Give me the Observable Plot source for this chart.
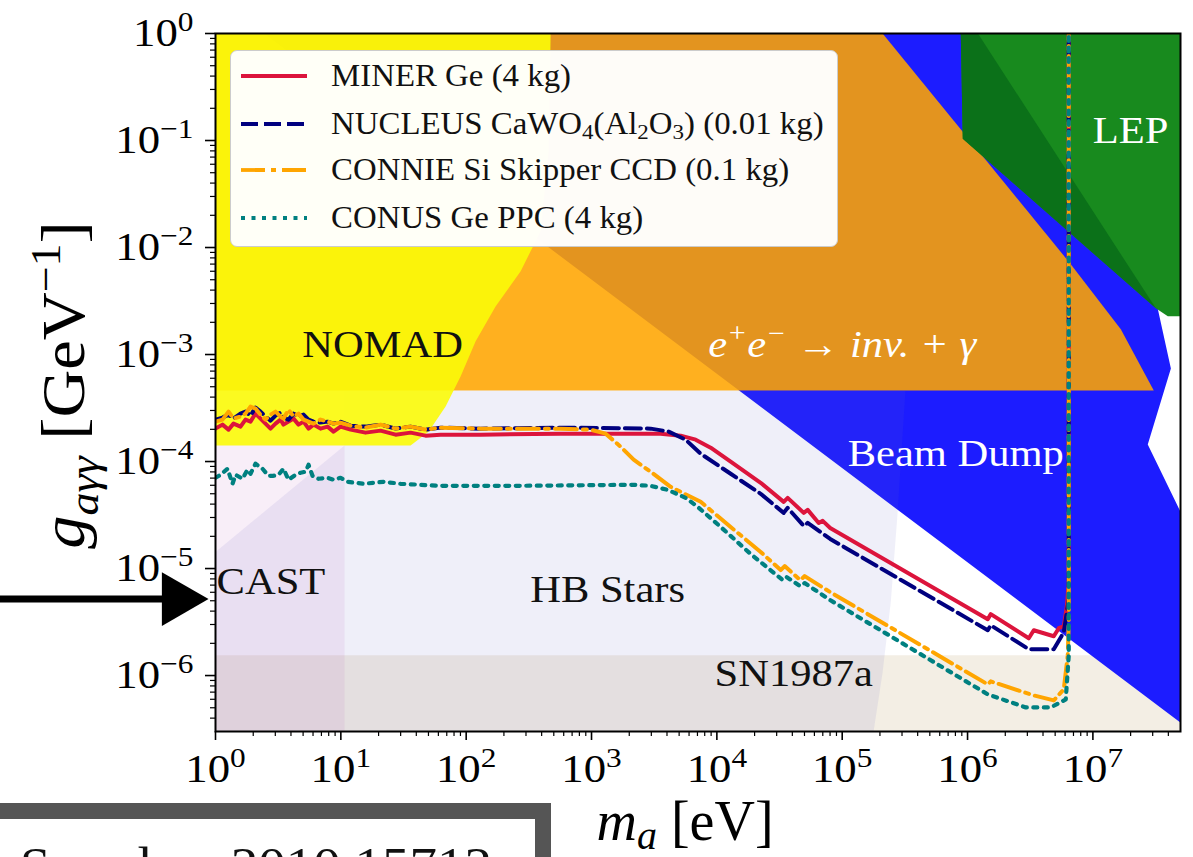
<!DOCTYPE html>
<html>
<head>
<meta charset="utf-8">
<script src="https://cdn.jsdelivr.net/npm/d3@7"></script>
<script src="https://cdn.jsdelivr.net/npm/@observablehq/plot@0.6"></script>
<style>
html,body{margin:0;padding:0;background:#fff;}
body{width:1193px;height:857px;overflow:hidden;position:relative;font-family:"Liberation Serif",serif;}
#chart{position:absolute;left:0;top:0;}
#legend{position:absolute;left:230px;top:50px;width:608px;height:197px;background:rgba(255,255,255,0.97);border:1.5px solid #cccccc;border-radius:7px;box-sizing:border-box;}
.row{position:absolute;left:0;height:40px;display:flex;align-items:center;}
.row svg{margin-left:9px;flex:none;}
.row span{font-size:31px;margin-left:23px;display:inline-block;transform:scaleX(1.06);transform-origin:left center;white-space:nowrap;color:#111;}
.row sub{font-size:0.7em;vertical-align:-0.25em;line-height:0;}
#note{position:absolute;left:-40px;top:803px;width:591px;height:140px;border:16px solid #555;box-sizing:border-box;}
#note span{position:absolute;left:44px;top:17px;font-size:50px;white-space:nowrap;color:#111;display:inline-block;transform:scaleX(1.1);transform-origin:left top;}
</style>
</head>
<body>
<div id="chart"></div>
<div id="legend"></div>
<div id="note"><span>See also: 2010.15712</span></div>
<script>
// ---------- axis ticks ----------
const xDecades = [1, 10, 100, 1e3, 1e4, 1e5, 1e6, 1e7];
const yDecades = [1e-6, 1e-5, 1e-4, 1e-3, 1e-2, 1e-1, 1];
const xDomain = [1, 5e7];
const yDomain = [3e-7, 1];

// ---------- excluded regions (polygons, data units) ----------
const snX = [1, 5e7, 5e7, 1];
const snY = [3e-7, 3e-7, 1.55e-6, 1.55e-6];

const beamX = [2.45, 3.3e7, 3.3e7, 4.19e7, 2.74e7, 5e7, 5e7];
const beamY = [1, 1, 2.65e-3, 7.4e-4, 1.44e-4, 3.39e-5, 3.64e-7];

const eeX = [1, 2.1e5, 6.66e6, 1.67e7, 3.06e7, 1];
const eeY = [1, 1, 6.99e-3, 1.72e-3, 4.6e-4, 4.6e-4];

const lepX = [8.83e5, 5e7, 5e7, 3.96e7, 3.18e7, 9.16e5];
const lepY = [1, 1, 2.28e-3, 2.28e-3, 2.7e-3, 0.104];
const lepDarkX = [8.83e5, 1.21e6, 3.18e7, 9.16e5];
const lepDarkY = [1, 1, 2.7e-3, 0.104];

const nomadX = [1, 472, 455, 393, 272, 172, 119, 90.2, 68.5, 50.1, 36.0, 1];
const nomadY = [1, 1, 0.080, 0.01425, 6.01e-3, 2.82e-3, 1.33e-3, 6.24e-4, 3.27e-4, 1.90e-4, 1.41e-4, 1.41e-4];

const hbX = [1, 1.78e5, 2.1e5, 2.44e5, 2.77e5, 3.2e5, 10.7, 10.7, 1];
const hbY = [3e-7, 3e-7, 1.07e-6, 4.85e-6, 3.39e-5, 4.6e-4, 4.6e-4, 1.41e-4, 1.43e-5];

const castX = [1, 10.7, 10.7, 1];
const castY = [3e-7, 3e-7, 4.6e-4, 4.6e-4];

// ---------- sensitivity curves ----------
const minerX = [1,1.137,1.27,1.392,1.583,1.735,1.902,2.085,2.286,2.506,2.748,3.012,3.303,3.488,3.824,4.193,4.597,5.04,5.524,6.053,6.887,7.833,8.745,9.945,11.95,15.74,20.74,27.33,36.0,47.4,62.5,130,567,1707,3560,5142,6772,8925,12883,22360,34130,36730,49300,53050,64940,69900,80200,1.45e6,1.532e6,3.079e6,3.376e6,4.874e6,5.344e6,5.858e6,6.19e6,6.42e6,6.42e6];
const minerG = [2.030e-4,2.213e-4,1.986e-4,2.261e-4,2.120e-4,2.465e-4,2.360e-4,2.805e-4,2.518e-4,2.261e-4,2.030e-4,2.261e-4,2.465e-4,2.213e-4,2.360e-4,2.518e-4,2.213e-4,2.360e-4,2.030e-4,2.213e-4,2.030e-4,2.120e-4,1.903e-4,2.120e-4,1.986e-4,1.862e-4,1.944e-4,1.783e-4,1.862e-4,1.745e-4,1.783e-4,1.783e-4,1.822e-4,1.822e-4,1.822e-4,1.745e-4,1.601e-4,1.347e-4,9.956e-5,6.33e-5,4.201e-5,4.578e-5,3.313e-5,3.534e-5,2.669e-5,2.787e-5,2.396e-5,3.36e-6,3.75e-6,2.23e-6,2.65e-6,2.33e-6,2.77e-6,2.89e-6,4.36e-6,7.47e-6,1];

const nucleusX = [1,1.137,1.27,1.392,1.583,1.735,1.902,2.085,2.286,2.506,2.748,3.012,3.303,3.488,3.824,4.193,4.597,5.04,5.524,6.053,6.887,7.833,8.745,9.945,11.95,15.74,20.74,27.33,36.0,47.4,62.5,130,567,2963,4124,5636,7426,12883,22360,34130,36730,49300,53050,80200,1.45e6,1.532e6,3.079e6,4.874e6,5.858e6,6.42e6,6.42e6];
const nucleusG = [2.465e-4,2.573e-4,2.745e-4,2.518e-4,2.805e-4,2.929e-4,2.687e-4,3.193e-4,2.929e-4,2.630e-4,2.412e-4,2.687e-4,2.867e-4,2.573e-4,2.465e-4,2.805e-4,2.630e-4,2.745e-4,2.465e-4,2.360e-4,2.310e-4,2.360e-4,2.261e-4,2.360e-4,2.165e-4,2.120e-4,2.213e-4,2.030e-4,2.120e-4,1.986e-4,2.074e-4,2.030e-4,2.074e-4,2.030e-4,1.903e-4,1.601e-4,1.183e-4,7.686e-5,4.991e-5,3.313e-5,3.690e-5,2.502e-5,2.669e-5,1.890e-5,2.65e-6,2.95e-6,1.76e-6,1.76e-6,2.54e-6,5.18e-6,1];

const connieX = [1,1.137,1.27,1.392,1.583,1.735,1.902,2.085,2.286,2.506,2.748,3.012,3.303,3.488,3.824,4.193,4.597,5.04,5.524,6.053,6.887,7.833,8.745,9.945,11.95,15.74,20.74,27.33,36.0,47.4,62.5,130,567,984,1296,1707,2168,2963,4279,7426,12883,22360,32300,34760,46220,50200,80200,1.45e6,1.532e6,3.376e6,4.874e6,5.858e6,6.30e6,6.42e6,6.42e6];
const connieG = [2.360e-4,2.465e-4,2.929e-4,2.518e-4,2.630e-4,2.805e-4,3.263e-4,3.125e-4,2.745e-4,2.465e-4,2.745e-4,2.929e-4,2.630e-4,2.518e-4,3.058e-4,2.630e-4,2.805e-4,2.465e-4,2.360e-4,2.261e-4,2.465e-4,2.360e-4,2.261e-4,2.310e-4,2.165e-4,2.074e-4,2.213e-4,2.030e-4,2.120e-4,1.986e-4,2.074e-4,2.030e-4,2.030e-4,1.986e-4,1.822e-4,1.376e-4,1.040e-4,8.025e-5,5.804e-5,4.201e-5,2.448e-5,1.428e-5,9.68e-6,1.055e-5,7.80e-6,8.50e-6,6.02e-6,8.27e-7,8.82e-7,6.52e-7,5.86e-7,7.42e-7,1.55e-6,3.15e-6,1];

const conusX = [1,1.096,1.247,1.367,1.444,1.642,1.80,1.902,2.085,2.372,2.648,2.903,3.183,3.488,3.824,4.35,4.768,5.226,5.524,5.943,6.637,7.833,8.745,9.945,11.31,15.18,21.92,29.96,62.5,272,2168,2963,4050,5636,7028,10723,18608,33500,36060,46220,50200,80200,1.45e6,2.914e6,4.613e6,6.076e6,6.42e6,6.42e6];
const conusG = [7.049e-5,7.521e-5,8.561e-5,6.193e-5,7.521e-5,6.899e-5,8.378e-5,7.686e-5,9.537e-5,8.561e-5,7.360e-5,7.360e-5,7.521e-5,8.561e-5,6.752e-5,7.521e-5,7.852e-5,8.025e-5,9.333e-5,7.360e-5,6.899e-5,7.049e-5,6.752e-5,7.049e-5,6.466e-5,6.193e-5,6.466e-5,6.193e-5,5.931e-5,5.931e-5,6.061e-5,5.931e-5,5.440e-5,4.578e-5,3.771e-5,2.448e-5,1.367e-5,7.80e-6,8.32e-6,6.85e-6,7.31e-6,5.07e-6,6.67e-7,5.04e-7,5.04e-7,5.98e-7,1.55e-6,1];

// ---------- text annotations (data units) ----------
const seriesNames = ["MINER Ge (4 kg)", "NUCLEUS CaWO<sub>4</sub>(Al<sub>2</sub>O<sub>3</sub>) (0.01 kg)", "CONNIE Si Skipper CCD (0.1 kg)", "CONUS Ge PPC (4 kg)"];
const darkLabels = [
  {text: "NOMAD", x: 21.5, y: 1.24e-3},
  {text: "HB Stars", x: 1343, y: 6.3e-6},
  {text: "SN1987a", x: 4.1e4, y: 1.03e-6}
];
const castLabel = [{text: "CAST", x: 1.02, y: 7.47e-6}];
const lightLabels = [
  {text: "LEP", x: 2.0e7, y: 0.123},
  {text: "Beam Dump", x: 8.05e5, y: 1.18e-4}
];
const eeLabel = [{text: "e^{+}e^{−} → inv. + γ", x: 1.0e5, y: 1.24e-3}];
const arrowShaft = [{x1: 0.0192, x2: 0.5, y: 5.18e-6}];
const arrowHead = [{x: 0.497, y: 5.18e-6}];

// ---------- build ----------
const poly = (xs, ys) => xs.map((x, i) => ({x, y: ys[i]}));
const minor = (decs, lo, hi) => decs.flatMap(d => [2,3,4,5,6,7,8,9].map(k => k * d)).filter(v => v > lo && v < hi);
const xMinor = minor([1,10,100,1e3,1e4,1e5,1e6,1e7], xDomain[0], xDomain[1]);
const yMinor = minor([1e-7,1e-6,1e-5,1e-4,1e-3,1e-2,1e-1], yDomain[0], yDomain[1]);
const pow10 = d => { const e = Math.round(Math.log10(d)); return "10^{" + (e < 0 ? "−" + (-e) : e) + "}"; };

const region = (xs, ys, fill, opacity = 1) =>
  Plot.line(poly(xs, ys), {x: "x", y: "y", fill, fillOpacity: opacity, stroke: "none", clip: true});

const styles = {
  miner: {stroke: "#dc143c", strokeWidth: 4},
  nucleus: {stroke: "#00007f", strokeWidth: 4, strokeDasharray: "16,6"},
  connie: {stroke: "#ffa500", strokeWidth: 4, strokeDasharray: "22,6,4,6"},
  conus: {stroke: "#008080", strokeWidth: 4.2, strokeDasharray: "4,6.5"}
};

const chart = Plot.plot({
  width: 1193, height: 857,
  marginLeft: 215, marginRight: 13, marginTop: 33, marginBottom: 126,
  x: {type: "log", domain: xDomain, label: null},
  y: {type: "log", domain: yDomain, label: null},
  style: {fontFamily: "Liberation Serif", fontSize: "40px", background: "transparent", color: "#000"},
  marks: [
    region(snX, snY, "#f3eee4"),
    region(beamX, beamY, "#1c1cff"),
    region(eeX, eeY, "#ffa500", 0.88),
    region(lepX, lepY, "#188a1e"),
    region(lepDarkX, lepDarkY, "#0b7119"),
    region(hbX, hbY, "#6464c8", 0.1),
    region(castX, castY, "#b955b9", 0.1),
    region(nomadX, nomadY, "#fbfb08", 0.9),
    Plot.line(poly(minerX, minerG), {x: "x", y: "y", ...styles.miner, clip: true}),
    Plot.line(poly(nucleusX, nucleusG), {x: "x", y: "y", ...styles.nucleus, clip: true}),
    Plot.line(poly(connieX, connieG), {x: "x", y: "y", ...styles.connie, clip: true}),
    Plot.line(poly(conusX, conusG), {x: "x", y: "y", ...styles.conus, clip: true}),
    Plot.text(darkLabels, {x: "x", y: "y", text: "text", fill: "#111", fontSize: 38}),
    Plot.text(castLabel, {x: "x", y: "y", text: "text", fill: "#111", fontSize: 38, textAnchor: "start"}),
    Plot.text(lightLabels, {x: "x", y: "y", text: "text", fill: "#fff", fontSize: 38}),
    Plot.text(eeLabel, {x: "x", y: "y", text: "text", fill: "#fff", fontSize: 38, fontStyle: "italic"}),
    Plot.frame({stroke: "#000", strokeWidth: 2}),
    Plot.axisX({ticks: xDecades, tickSize: 9, tickPadding: 13, tickFormat: pow10, label: null, strokeWidth: 1.6}),
    Plot.axisX({ticks: xMinor, tickSize: 5, tickFormat: () => "", label: null, strokeWidth: 1.2}),
    Plot.axisY({ticks: yDecades, tickSize: 10, tickPadding: 12, tickFormat: pow10, label: null, strokeWidth: 1.6}),
    Plot.axisY({ticks: yMinor, tickSize: 5, tickFormat: () => "", label: null, strokeWidth: 1.2}),
    Plot.ruleY(arrowShaft, {y: "y", x1: "x1", x2: "x2", stroke: "#000", strokeWidth: 7}),
    Plot.dot(arrowHead, {x: "x", y: "y", symbol: "triangle", r: 20, rotate: 90, fill: "#000", stroke: "none"})
  ]
});
document.getElementById("chart").appendChild(chart);

// rich text (super/subscripts) and CM-like horizontal stretch
const SVGNS = "http://www.w3.org/2000/svg";
function rich(t) {
  const s = t.textContent;
  if (!/[\^_]\{/.test(s)) return;
  const fs = parseFloat(getComputedStyle(t).fontSize) || 16;
  const re = /([\^_])\{([^}]*)\}/g; const parts = []; let last = 0, m;
  while ((m = re.exec(s))) { if (m.index > last) parts.push([s.slice(last, m.index), 0]); parts.push([m[2], m[1] === "^" ? 1 : -1]); last = re.lastIndex; }
  if (last < s.length) parts.push([s.slice(last), 0]);
  while (t.firstChild) t.removeChild(t.firstChild);
  let cur = 0;
  for (const [txt, k] of parts) {
    const ts = document.createElementNS(SVGNS, "tspan");
    const off = k === 1 ? -0.38 * fs : k === -1 ? 0.2 * fs : 0;
    if (off - cur) ts.setAttribute("dy", (off - cur).toFixed(2));
    cur = off;
    if (k) ts.setAttribute("font-size", (0.7 * fs).toFixed(1));
    ts.textContent = txt; t.appendChild(ts);
  }
}
function stretch(t, k) {
  if (!t.textContent.trim()) return;
  const g = document.createElementNS(SVGNS, "g");
  t.parentNode.insertBefore(g, t);
  g.appendChild(t);
  const bb = g.getBBox();
  const anchor = getComputedStyle(t).textAnchor;
  const ax = anchor === "end" ? bb.x + bb.width : anchor === "middle" ? bb.x + bb.width / 2 : bb.x;
  g.setAttribute("transform", `translate(${ax},0) scale(${k},1) translate(${-ax},0)`);
}
Array.from(chart.querySelectorAll("text")).forEach(t => { rich(t); stretch(t, 1.12); });

// axis titles
const svg = d3.select(chart);
const yt = svg.append("text").attr("transform", "translate(84,385) rotate(-90) scale(1.07,1)")
  .attr("text-anchor", "middle").attr("font-size", 62).attr("fill", "#000");
yt.append("tspan").attr("font-style", "italic").text("g");
yt.append("tspan").attr("font-style", "italic").attr("font-size", 43).attr("dy", 14).text("aγγ");
yt.append("tspan").attr("dy", -14).text(" [GeV");
yt.append("tspan").attr("font-size", 43).attr("dy", -24).text("−1");
yt.append("tspan").attr("dy", 24).text("]");
const xt = svg.append("text").attr("transform", "translate(685,840)")
  .attr("text-anchor", "middle").attr("font-size", 56).attr("fill", "#000");
xt.append("tspan").attr("font-style", "italic").text("m");
xt.append("tspan").attr("font-style", "italic").attr("font-size", 40).attr("dy", 9).text("a");
xt.append("tspan").attr("dy", -9).text(" [eV]");

// legend
const legend = document.getElementById("legend");
const dashes = [null, "17,6", "24,6,5,6", "4,6.5"];
const lcolors = ["#dc143c", "#00007f", "#ffa500", "#008080"];
const rowTops = [5, 53, 99, 147];
seriesNames.forEach((name, i) => {
  const row = document.createElement("div");
  row.className = "row"; row.style.top = rowTops[i] + "px";
  row.innerHTML = `<svg width="68" height="10"><line x1="1" x2="67" y1="5" y2="5" stroke="${lcolors[i]}" stroke-width="3.8" ${dashes[i] ? `stroke-dasharray="${dashes[i]}"` : ""}/></svg><span>${name}</span>`;
  legend.appendChild(row);
});
</script>
</body>
</html>
